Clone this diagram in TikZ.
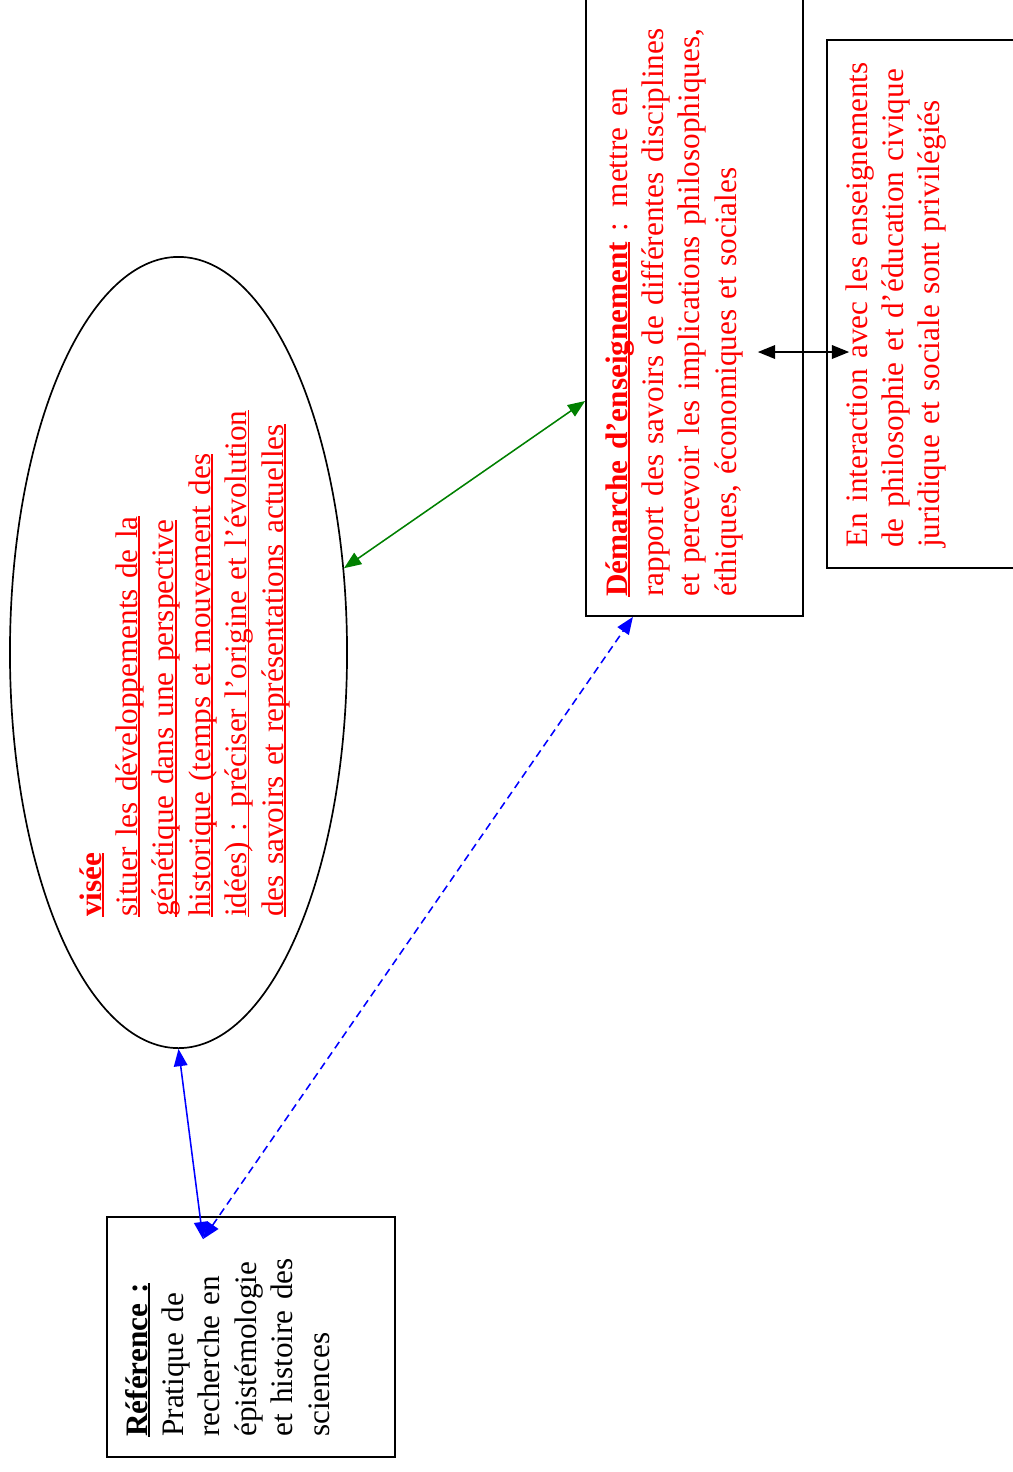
\documentclass[tikz,border=0pt]{standalone}
\usepackage{fontspec}
\setmainfont{Liberation Serif}
\usetikzlibrary{positioning}
\usetikzlibrary{shapes, arrows.meta}
\definecolor{lgreen}{RGB}{0,128,0}
\newcommand\undl[1]{\leavevmode\setbox0\hbox{#1}\rlap{\rule[-2pt]{\wd0}{1.3pt}}\box0}
\tikzstyle{box} = [rectangle, draw, line width=1.2pt, inner sep=0pt]
\tikzstyle{oval} = [ellipse, draw, line width=1.2pt, inner sep=0pt]
\tikzstyle{txt} = [rotate=90, anchor=base west, inner sep=0pt, text width=16cm, align=left, font=\fontsize{22.2}{25.9}\selectfont]
\tikzstyle{line} = [draw, line width=1.1pt, {Triangle[length=4.3mm,width=3.4mm]}-{Triangle[length=4.3mm,width=3.4mm]}]

\begin{document}
\begin{tikzpicture}[x=0.025cm, y=-0.025cm]
    \useasboundingbox (0,0) rectangle (1012,1472);
    \node [oval, minimum width=8.425cm, minimum height=19.775cm] (visee) at (178.5,652.5) {};
    \node [box, minimum width=5.425cm, minimum height=15.9cm] (demarche) at (694.5,298) {};
    \node [box, minimum width=5.075cm, minimum height=13.2cm] (inter) at (928.5,304) {};
    \node [box, minimum width=7.2cm, minimum height=6cm] (ref) at (251,1337) {};

    \node [txt, text=red] (visee_txt) at (101,917) {\textbf{\undl{visée}}\\
        \undl{situer les développements de la}\\
        \undl{génétique dans une perspective}\\
        \undl{historique (temps et mouvement des}\\
        \undl{idées) : préciser l’origine et l’évolution}\\
        \undl{des savoirs et représentations actuelles}};
    \node [txt, text=red] (demarche_txt) at (627,597) {\textbf{\undl{Démarche d’enseignement}} : mettre en\\
        rapport des savoirs de différentes disciplines\\
        et percevoir les implications philosophiques,\\
        éthiques, économiques et sociales};
    \node [txt, text=red] (inter_txt) at (867,548) {En interaction avec les enseignements\\
        de philosophie et d’éducation civique\\
        juridique et sociale sont privilégiés};
    \node [txt] (ref_txt) at (147,1437) {\textbf{\undl{Référence :}}\\
        Pratique de\\
        recherche en\\
        épistémologie\\
        et histoire des\\
        sciences};

    \path [line, lgreen] (visee.27) -- ([yshift=-2.575cm]demarche.west);
    \path [line, blue] (visee.south) -- ([xshift=-1.2cm, yshift=-0.575cm]ref.north);
    \path [line, blue, dash pattern=on 5.5pt off 3.5pt] ([xshift=-1.2cm, yshift=-0.575cm]ref.north) -- ([xshift=-1.54cm]demarche.south);
    \path [line, black] ([xshift=-1.15cm, yshift=-1.35cm]demarche.east) -- ([xshift=0.575cm, yshift=-1.2cm]inter.west);

\end{tikzpicture}
\end{document}
